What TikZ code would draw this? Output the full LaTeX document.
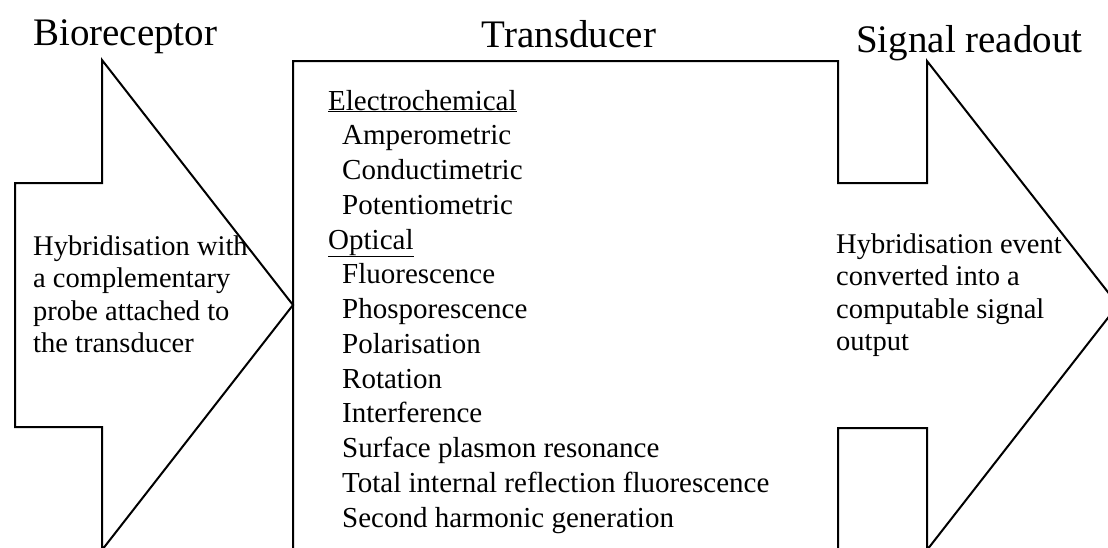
\documentclass[tikz,border=0pt]{standalone}
\usepackage{fontspec}
\setmainfont{Liberation Serif}
\usetikzlibrary{positioning}

\tikzset{
  outline/.style={draw=black, line width=2pt, line join=miter},
  title/.style={anchor=base west, inner sep=0pt, font=\fontsize{39}{45}\selectfont},
  item/.style={anchor=base west, inner sep=0pt, font=\fontsize{29}{34}\selectfont},
  note/.style={anchor=north west, inner sep=0pt, align=left, font=\fontsize{28.5}{32.3}\selectfont},
}

\begin{document}
\begin{tikzpicture}[x=1pt,y=-1pt]
\useasboundingbox (0,0) rectangle (1108,547);
\clip (0,0) rectangle (1108,547);
% bioreceptor arrow
\draw[outline] (15,183) -- (102,183) -- (102,60) -- (293,305) -- (102,550) -- (102,427) -- (15,427) -- cycle;
% transducer box and readout arrow
\draw[outline] (293,560) -- (293,61) -- (838,61) -- (838,183) -- (927,183) -- (927,61)
  -- (1118,305) -- (927,550) -- (927,428) -- (838,428) -- (838,560);
% titles
\node[title] (bio) at (33,45) {Bioreceptor};
\node[title, anchor=base] (trans) at (569,47) {Transducer};
\node[title] (readout) at (856,52) {Signal readout};
% side notes
\node[note] (probe) at (33,235.5) {Hybridisation with\\a complementary\\probe attached to\\the transducer};
\node[note] (event) at (836,233.5) {Hybridisation event\\converted into a\\computable signal\\output};
% transducer types
\node[item] (elec) at (328,110) {\underline{Electrochemical}};
\foreach \txt [count=\i] in {Amperometric,Conductimetric,Potentiometric}
  \node[item] (ec\i) at (342,110+34.75*\i) {\txt};
\node[item] (opt) at (328,249) {\underline{Optical}};
\foreach \txt [count=\i] in {Fluorescence,Phosporescence,Polarisation,Rotation,Interference,
    Surface plasmon resonance,Total internal reflection fluorescence,Second harmonic generation}
  \node[item] (op\i) at (342,249+34.75*\i) {\txt};
\end{tikzpicture}
\end{document}
